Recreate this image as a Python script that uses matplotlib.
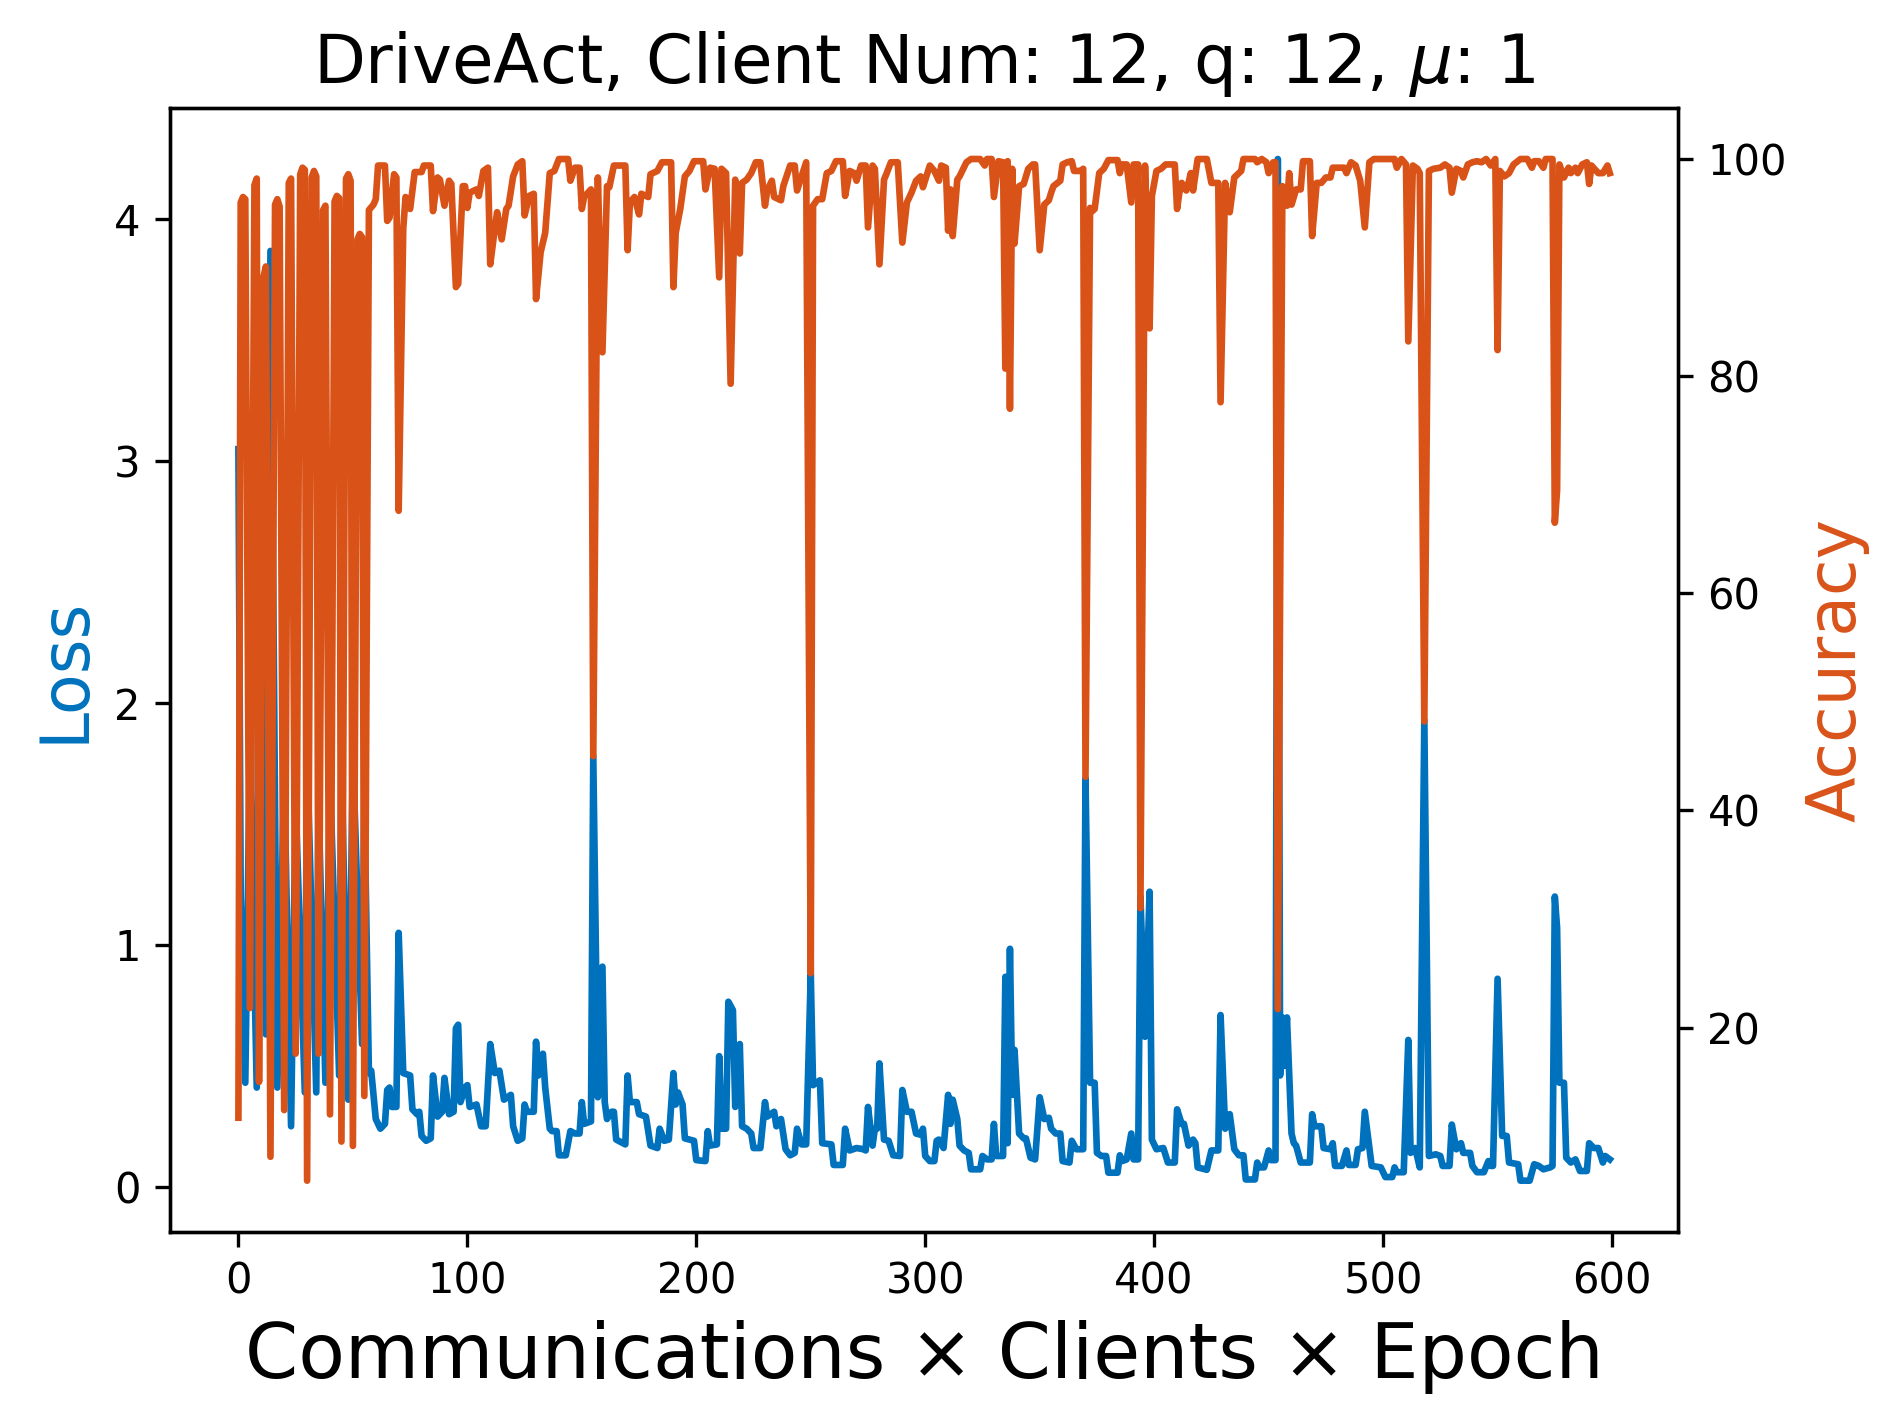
import matplotlib
matplotlib.use("Agg")
import matplotlib.pyplot as plt

# ---- data ----
acc_x = [0, 1, 2, 3, 5, 7, 8, 9, 11, 12, 14, 16, 17, 18, 20, 22, 23, 25, 27, 28, 29, 30, 32, 33, 34, 35,
         37, 38, 40, 42, 43, 44, 45, 47, 48, 49, 50, 52, 53, 54, 55, 57,
         59, 60, 61, 64, 65, 66, 68, 69, 70, 72, 73, 75, 77, 80, 81, 84, 85, 87, 88, 90, 92, 93, 95, 96,
         98, 99, 100, 101, 104, 105, 107, 109, 110, 112, 113, 115, 117, 118, 120, 122, 124, 125, 127, 129,
         130, 132, 134, 136, 138, 140, 144, 145, 147, 149, 150, 151, 154, 155, 157, 159, 161, 162, 164,
         169, 170, 171, 173, 175, 176, 179, 180, 183, 185, 189, 190, 191, 193, 195, 197, 199, 203, 204,
         206, 208, 210, 211, 213, 215, 217, 219, 220, 222, 224, 226, 228, 230, 231, 233, 234, 237, 238,
         241, 243, 244, 246, 248, 250, 251, 253, 255, 257, 259, 261, 264, 265, 267, 269, 270, 272, 274,
         275, 277, 278, 280, 282, 283, 285, 288, 290, 292, 294, 296, 298, 299, 302, 304, 306, 307, 309,
         310, 311, 312, 314, 315, 318, 320, 324, 326, 327, 329, 330, 332, 334, 335, 336, 337, 338, 339,
         341, 343, 345, 347, 348, 350, 352, 354, 355, 356, 359, 360, 362, 364, 365, 368, 369, 370, 372,
         373, 374, 376, 378, 380, 384, 385, 386, 388, 390, 391, 393, 394, 396, 398, 399, 401, 403, 405,
         409, 410, 411, 412, 414, 415, 416, 417, 419, 423, 425, 428, 429, 431, 433, 435, 438, 439, 444,
         445, 447, 449, 450, 452, 453, 454, 456, 458, 459, 460, 462, 464, 465, 468, 469, 471, 473, 475,
         477, 478, 483, 484, 486, 488, 490, 492, 494, 496, 505, 506, 508, 510, 511, 513, 515, 516, 518,
         520, 522, 525, 527, 529, 530, 532, 534, 535, 537, 539, 541, 543, 545, 547, 549, 550, 551, 553,
         555, 557, 560, 563, 565, 566, 568, 570, 571, 574, 575, 576, 577, 579, 581, 582, 584, 585, 587,
         589, 590, 591, 594, 596, 598, 599]
acc_y = [11.7, 96.0, 96.5, 96.3, 21.8, 97.6, 98.2, 15.0, 89.2, 90.1, 8.1, 95.8, 96.3, 95.6, 12.4,
         97.8, 98.2, 17.6, 98.6, 99.2, 99.0, 5.9, 98.3, 98.9, 98.4, 17.6, 95.3, 95.7, 12.0, 96.1, 96.6,
         96.4, 9.5, 98.2, 98.6, 98.0, 9.1, 92.6, 93.1, 92.8, 13.7, 95.3,
         95.8, 96.3, 99.4, 99.4, 94.3, 94.6, 98.6, 98.3, 67.6, 93.6, 96.5, 95.4, 98.8, 98.8, 99.4, 99.4,
         95.2, 98.3, 98.1, 95.7, 98.0, 97.7, 88.2, 88.5, 97.5, 97.5, 95.5, 96.9, 97.2, 96.6, 98.9, 99.2,
         90.3, 93.6, 95.1, 92.6, 95.4, 95.7, 98.4, 99.5, 99.8, 94.8, 96.6, 96.8, 87.1, 91.4, 93.2, 98.7,
         98.9, 100.0, 100.0, 98.0, 99.2, 99.2, 95.4, 96.5, 97.2, 45.0, 98.3, 82.2, 97.5, 97.4, 99.4,
         99.4, 91.6, 96.0, 96.5, 94.9, 96.8, 96.5, 98.6, 98.9, 99.7, 99.7, 88.2, 93.2, 95.4, 98.4, 98.9,
         99.8, 99.8, 97.2, 99.2, 99.1, 89.1, 99.1, 98.7, 79.3, 98.1, 91.3, 97.8, 98.1, 98.7, 99.7, 99.7,
         95.7, 97.1, 98.0, 96.5, 96.2, 97.5, 99.4, 99.4, 97.1, 98.4, 99.7, 25.0, 95.7, 96.3, 96.3, 98.7,
         98.9, 99.8, 99.8, 96.6, 98.9, 98.7, 98.0, 99.4, 99.4, 93.7, 99.4, 99.1, 90.3, 98.1, 98.6, 99.7,
         99.7, 92.3, 96.0, 96.9, 98.0, 98.4, 97.4, 99.4, 98.9, 98.0, 99.4, 99.2, 93.4, 97.2, 92.9, 98.1,
         98.4, 99.7, 100.0, 100.0, 99.4, 100.0, 100.0, 96.5, 99.8, 99.7, 80.7, 99.8, 77.0, 99.1, 92.2,
         97.5, 97.7, 99.1, 99.5, 99.5, 91.6, 95.8, 96.2, 96.9, 97.5, 98.0, 99.5, 99.7, 99.8, 98.9, 98.9,
         99.1, 43.1, 95.5, 95.2, 95.4, 98.7, 99.1, 99.9, 99.9, 98.7, 99.5, 99.5, 96.0, 99.5, 99.5, 31.0,
         99.4, 84.4, 96.6, 98.9, 99.1, 99.5, 99.5, 95.4, 96.9, 97.8, 97.1, 97.8, 98.7, 97.1, 100.0, 100.0,
         97.8, 97.8, 77.6, 97.8, 95.1, 98.3, 98.9, 100.0, 100.0, 99.7, 100.0, 99.7, 98.7, 99.7, 99.7,
         21.7, 97.5, 95.7, 98.7, 95.8, 97.2, 97.2, 99.8, 99.8, 92.9, 97.8, 97.8, 98.3, 98.3, 99.2, 99.2,
         98.7, 99.7, 99.4, 98.0, 93.7, 99.7, 100.0, 100.0, 99.2, 100.0, 99.5, 83.2, 99.4, 99.1, 98.7,
         48.2, 98.9, 99.1, 99.2, 99.5, 99.2, 96.9, 99.1, 98.9, 98.3, 99.5, 99.7, 99.8, 99.7, 100.0, 99.4,
         100.0, 82.4, 98.9, 98.4, 98.7, 99.5, 100.0, 100.0, 99.2, 99.8, 99.8, 99.2, 100.0, 100.0, 66.5,
         69.5, 99.5, 98.3, 99.2, 98.7, 99.2, 98.7, 99.5, 99.7, 97.7, 99.4, 98.7, 98.7, 99.4, 98.7]

loss_x = [0, 1, 3, 5, 8, 9, 12, 14, 17, 20, 23, 25, 29, 30, 34, 35, 38, 40, 44, 45, 48, 50, 54, 55, 57,
          58, 60, 62, 64, 65, 66, 67, 69, 70, 72, 75, 76, 78, 79, 80, 82, 84, 85, 87, 89, 90, 92, 94, 95,
          96, 97, 99, 100, 101, 104, 106, 108, 110, 112, 114, 116, 119, 120, 122, 124, 125, 126, 129, 130,
          131, 133, 134, 136, 137, 139, 140, 143, 145, 147, 149, 150, 151, 154, 155, 157, 159, 160, 161,
          163, 164, 165, 169, 170, 171, 174, 175, 178, 180, 183, 184, 186, 188, 190, 191, 192, 194, 195,
          197, 199, 200, 204, 205, 206, 209, 210, 211, 213, 214, 216, 217, 219, 220, 222, 224, 225, 228,
          230, 231, 234, 235, 237, 239, 241, 243, 244, 246, 248, 250, 251, 254, 255, 259, 260, 264, 265,
          267, 270, 273, 274, 275, 277, 278, 279, 280, 282, 284, 286, 289, 290, 292, 294, 296, 298, 299,
          300, 302, 304, 305, 306, 308, 310, 311, 312, 314, 315, 317, 319, 320, 324, 325, 327, 329, 330,
          331, 334, 335, 336, 337, 338, 339, 341, 343, 344, 346, 348, 350, 352, 354, 355, 357, 359, 360,
          363, 364, 366, 369, 370, 372, 374, 375, 377, 379, 380, 384, 385, 386, 388, 390, 391, 393, 394,
          396, 398, 399, 401, 404, 406, 409, 410, 412, 413, 415, 417, 418, 419, 423, 425, 428, 429, 431,
          433, 435, 437, 439, 440, 444, 445, 446, 448, 450, 451, 453, 454, 455, 456, 457, 458, 460, 461,
          462, 464, 468, 469, 470, 473, 474, 477, 478, 479, 482, 484, 485, 488, 489, 491, 492, 495, 499,
          501, 504, 505, 506, 509, 511, 512, 514, 516, 518, 520, 523, 525, 526, 529, 530, 532, 534, 535,
          538, 539, 541, 544, 546, 547, 548, 550, 552, 554, 555, 559, 560, 564, 566, 568, 570, 573, 574,
          575, 576, 577, 579, 580, 582, 584, 586, 589, 590, 592, 594, 596, 597, 599]
loss_y = [3.05, 1.2, 0.43, 1.8, 0.41, 3.28, 0.63, 3.87, 0.41, 1.7, 0.25, 1.6, 0.39, 1.8, 0.39, 1.6,
          0.43, 1.7, 0.46, 1.8, 0.36, 1.8, 0.59, 1.6, 0.47,
          0.48, 0.28, 0.24, 0.26, 0.40, 0.41, 0.33, 0.33, 1.05, 0.47, 0.46, 0.32, 0.30, 0.31, 0.21, 0.19,
          0.20, 0.46, 0.29, 0.31, 0.45, 0.30, 0.31, 0.655, 0.67, 0.35, 0.41, 0.42, 0.33, 0.34, 0.25, 0.25,
          0.59, 0.47, 0.48, 0.36, 0.38, 0.25, 0.19, 0.20, 0.34, 0.31, 0.31, 0.60, 0.46, 0.55, 0.41, 0.24,
          0.23, 0.23, 0.13, 0.13, 0.23, 0.22, 0.22, 0.35, 0.26, 0.27, 1.78, 0.37, 0.91, 0.35, 0.28, 0.31,
          0.31, 0.195, 0.175, 0.46, 0.35, 0.35, 0.30, 0.29, 0.17, 0.16, 0.24, 0.19, 0.195, 0.47, 0.34,
          0.39, 0.34, 0.20, 0.195, 0.19, 0.11, 0.106, 0.23, 0.17, 0.175, 0.54, 0.24, 0.24, 0.765, 0.73,
          0.33, 0.59, 0.25, 0.24, 0.22, 0.16, 0.16, 0.35, 0.29, 0.31, 0.25, 0.28, 0.155, 0.13, 0.14, 0.24,
          0.175, 0.175, 0.88, 0.42, 0.44, 0.18, 0.175, 0.09, 0.09, 0.24, 0.15, 0.16, 0.155, 0.15, 0.33,
          0.17, 0.24, 0.24, 0.51, 0.195, 0.19, 0.13, 0.127, 0.40, 0.31, 0.31, 0.22, 0.215, 0.24, 0.127,
          0.106, 0.106, 0.19, 0.195, 0.16, 0.38, 0.26, 0.36, 0.28, 0.17, 0.15, 0.14, 0.072, 0.072, 0.127,
          0.113, 0.113, 0.26, 0.127, 0.127, 0.868, 0.18, 0.984, 0.38, 0.566, 0.22, 0.20, 0.20, 0.12, 0.113,
          0.37, 0.28, 0.285, 0.24, 0.22, 0.22, 0.106, 0.10, 0.19, 0.155, 0.155, 1.69, 0.43, 0.43, 0.14,
          0.127, 0.127, 0.058, 0.058, 0.13, 0.106, 0.113, 0.22, 0.113, 0.113, 1.2, 0.62, 1.22, 0.195,
          0.155, 0.16, 0.10, 0.10, 0.32, 0.26, 0.26, 0.17, 0.195, 0.18, 0.08, 0.07, 0.15, 0.15, 0.71,
          0.24, 0.30, 0.155, 0.13, 0.13, 0.03, 0.03, 0.10, 0.08, 0.08, 0.15, 0.11, 0.11, 4.25, 0.46, 0.70,
          0.50, 0.70, 0.22, 0.18, 0.17, 0.10, 0.10, 0.30, 0.25, 0.25, 0.16, 0.155, 0.18, 0.086, 0.086,
          0.15, 0.09, 0.09, 0.155, 0.16, 0.31, 0.086, 0.08, 0.04, 0.04, 0.08, 0.06, 0.06, 0.607, 0.14,
          0.16, 0.08, 1.93, 0.127, 0.134, 0.127, 0.086, 0.086, 0.257, 0.155, 0.18, 0.14, 0.14, 0.086,
          0.06, 0.06, 0.106, 0.086, 0.086, 0.86, 0.21, 0.21, 0.10, 0.093, 0.025, 0.025, 0.093, 0.086, 0.072,
          0.08, 0.086, 1.2, 1.07, 0.43, 0.43, 0.12, 0.10, 0.113, 0.065, 0.065, 0.18, 0.16, 0.16, 0.10,
          0.127, 0.113]

title = r"DriveAct, Client Num: 12, q: 12, $\mu$: 1"
xlabel = "Communications \u00d7 Clients \u00d7 Epoch"

BLUE = "#0072BD"
ORANGE = "#D95319"

fig = plt.figure(figsize=(6.34, 4.7467), dpi=300)
ax1 = fig.add_axes([0.0893, 0.1350, 0.7931, 0.7892])
ax1.plot(loss_x, loss_y, color=BLUE, lw=1.6)
ax1.set_ylabel("Loss", color=BLUE, fontsize=16)
ax1.set_xlabel(xlabel, fontsize=18.3)
ax1.set_title(title, fontsize=16.2)

ax2 = ax1.twinx()
ax2.plot(acc_x, acc_y, color=ORANGE, lw=1.6)
ax2.set_ylabel("Accuracy", color=ORANGE, fontsize=16)

fig.savefig("out.png", dpi=300)
